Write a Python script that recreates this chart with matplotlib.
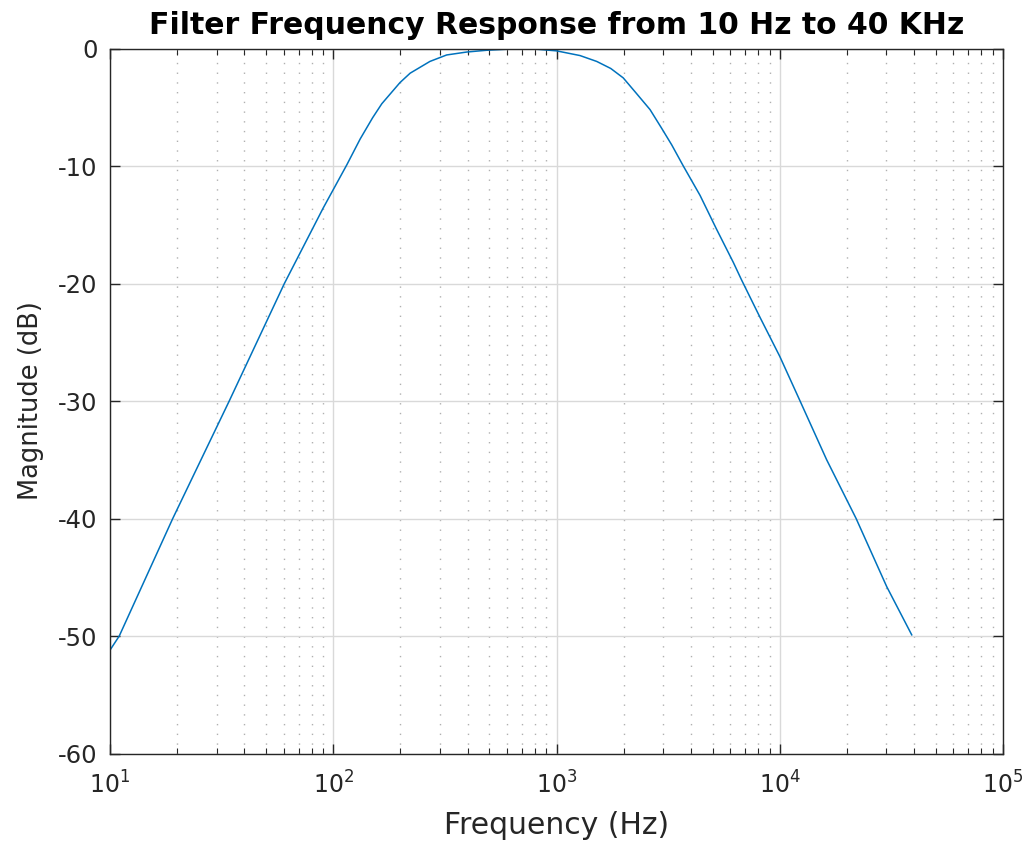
import matplotlib.pyplot as plt
import numpy as np

plt.rcParams['font.family'] = ['DejaVu Sans']
plt.rcParams['axes.unicode_minus'] = False

# frequency (Hz) and magnitude (dB)
freq = [10, 11.0, 19.1, 34.2, 60.4, 90, 115, 132, 150, 165, 199, 221, 271,
        322, 396, 486, 617, 800, 1000, 1274, 1514, 1750, 1990, 2275, 2624,
        2960, 3281, 3698, 4395, 5217, 6193, 6745, 8167, 10000, 12330,
        16220, 21980, 30140, 39000]
mag = [-51.2, -50.0, -40.0, -30.0, -20.0, -13.6, -9.9, -7.7, -5.9, -4.7,
       -2.9, -2.1, -1.1, -0.55, -0.3, -0.15, -0.05, -0.05, -0.2, -0.6,
       -1.1, -1.7, -2.5, -3.8, -5.2, -6.8, -8.2, -10.0, -12.5, -15.4,
       -18.2, -19.7, -22.9, -26.2, -30.0, -35.0, -40.0, -45.8, -49.9]

fig = plt.figure(figsize=(10.3, 8.48), dpi=100)
ax = fig.add_axes([0.1068, 0.1114, 0.8670, 0.8314])

ax.semilogx(freq, mag, color='#0072BD', linewidth=1.1)

ax.set_xlim(10, 1e5)
ax.set_ylim(-60, 0)
ax.set_yticks(np.arange(-60, 1, 10))

axc = '#262626'
ax.grid(True, which='major', color='#d9d9d9', linewidth=1.0)
ax.grid(True, which='minor', axis='x', color='#b0b0b0',
        linestyle=(0, (1, 6)), linewidth=1.0)
ax.set_axisbelow(True)

ax.tick_params(which='both', direction='in', top=True, right=True,
               colors=axc)
ax.tick_params(which='major', length=7, width=1)
ax.tick_params(which='minor', length=4, width=0.8)
ax.tick_params(axis='y', which='major', pad=9, labelsize=17.5)
ax.tick_params(axis='x', which='major', pad=13, labelsize=17)
for s in ax.spines.values():
    s.set_color(axc)
    s.set_linewidth(1.0)

ax.set_title('Filter Frequency Response from 10 Hz to 40 KHz',
             fontsize=21.5, fontweight='bold', color='black', pad=10.5)
ax.set_xlabel('Frequency (Hz)', fontsize=21.5, color=axc, labelpad=9)
ax.set_ylabel('Magnitude (dB)', fontsize=18.5, color=axc, labelpad=10)

fig.savefig('out.png', dpi=100)
